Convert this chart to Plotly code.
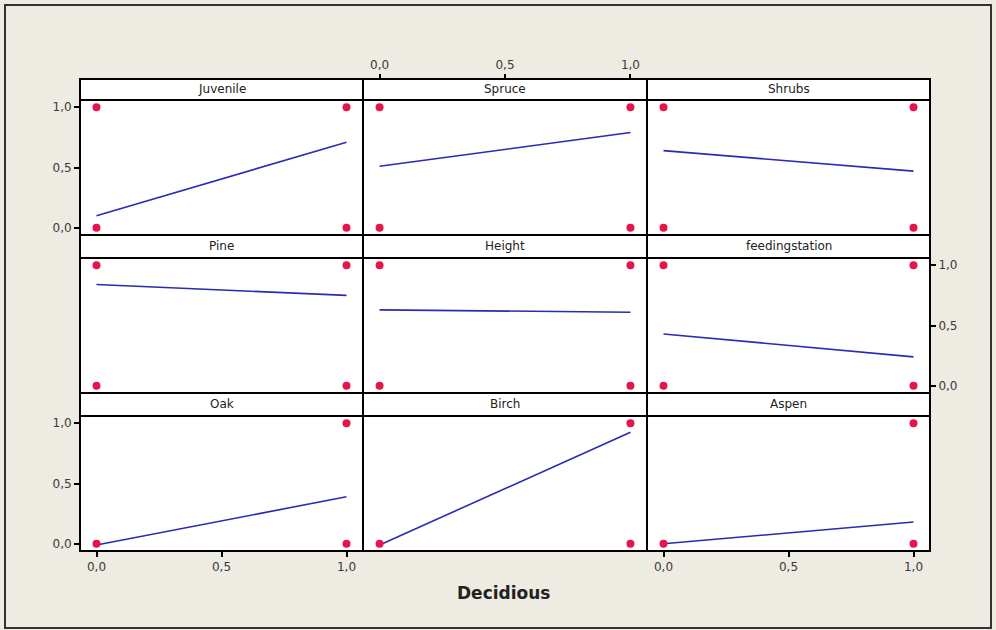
import plotly.graph_objects as go

# ---------------- data ----------------
panel_names = ["Juvenile", "Spruce", "Shrubs",
               "Pine", "Height", "feedingstation",
               "Oak", "Birch", "Aspen"]

# observed (Decidious, response) combinations shown as red points
points_x = [[0, 0, 1, 1], [0, 0, 1, 1], [0, 0, 1, 1],
            [0, 0, 1, 1], [0, 0, 1, 1], [0, 0, 1, 1],
            [0, 1, 1], [0, 1, 1], [0, 1, 1]]
points_y = [[0, 1, 0, 1], [0, 1, 0, 1], [0, 1, 0, 1],
            [0, 1, 0, 1], [0, 1, 0, 1], [0, 1, 0, 1],
            [0, 0, 1], [0, 0, 1], [0, 0, 1]]

# fitted line (value at Decidious = 0 and Decidious = 1)
fit_x = [0.0, 1.0]
fit_start = [0.10, 0.51, 0.64, 0.84, 0.63, 0.43, -0.01, -0.01, 0.00]
fit_end = [0.71, 0.79, 0.47, 0.75, 0.61, 0.24, 0.39, 0.925, 0.18]

tick_vals = [0, 0.5, 1]
tick_text = ["0,0", "0,5", "1,0"]
x_title = "Decidious"

# ---------------- layout geometry (pixels) ----------------
W, H = 996, 630
col_edges = [(80, 363), (363, 647), (647, 930)]
row_strip = [(79, 100), (235, 258), (393, 416)]
row_plot = [(100, 235), (258, 393), (416, 551)]


def fx(p):
    return p / W


def fy(p):
    return 1 - p / H


fig = go.Figure()
shapes = []
annotations = []
layout = {}

tick_font = dict(family="DejaVu Sans", size=12, color="#3a3a3a")

for i, name in enumerate(panel_names):
    r, c = divmod(i, 3)
    n = i + 1
    xa = "x" if n == 1 else f"x{n}"
    ya = "y" if n == 1 else f"y{n}"
    xl = "xaxis" if n == 1 else f"xaxis{n}"
    yl = "yaxis" if n == 1 else f"yaxis{n}"
    x0, x1 = col_edges[c]
    py0, py1 = row_plot[r]
    sy0, sy1 = row_strip[r]

    xaxis = dict(domain=[fx(x0), fx(x1)], range=[-0.066, 1.066],
                 showgrid=False, zeroline=False, showline=False,
                 tickvals=tick_vals, ticktext=tick_text, tickfont=tick_font,
                 anchor=ya, fixedrange=True)
    yaxis = dict(domain=[fy(py1), fy(py0)], range=[-0.06, 1.06],
                 showgrid=False, zeroline=False, showline=False,
                 tickvals=tick_vals, ticktext=tick_text, tickfont=tick_font,
                 anchor=xa, fixedrange=True)

    # x tick labels
    if r == 2 and c in (0, 2):
        xaxis.update(showticklabels=True, ticks="outside", ticklen=5,
                     tickwidth=1.5, tickcolor="black", side="bottom")
    elif r == 0 and c == 1:
        xaxis.update(showticklabels=True, ticks="outside", ticklen=5,
                     tickwidth=1.5, tickcolor="black", side="top",
                     anchor="free", position=fy(sy0))
    else:
        xaxis.update(showticklabels=False, ticks="")

    # y tick labels
    if c == 0 and r in (0, 2):
        yaxis.update(showticklabels=True, ticks="outside", ticklen=5,
                     tickwidth=1.5, tickcolor="black", side="left")
    elif c == 2 and r == 1:
        yaxis.update(showticklabels=True, ticks="outside", ticklen=5,
                     tickwidth=1.5, tickcolor="black", side="right")
    else:
        yaxis.update(showticklabels=False, ticks="")

    layout[xl] = xaxis
    layout[yl] = yaxis

    # fitted line
    fig.add_trace(go.Scatter(x=fit_x, y=[fit_start[i], fit_end[i]],
                             mode="lines", line=dict(color="#2a2ab4", width=1.6),
                             xaxis=xa, yaxis=ya, showlegend=False,
                             hoverinfo="skip"))
    # observed points
    fig.add_trace(go.Scatter(x=points_x[i], y=points_y[i], mode="markers",
                             marker=dict(color="#e5144b", size=8,
                                         symbol="circle"),
                             xaxis=xa, yaxis=ya, showlegend=False))

    # strip
    shapes.append(dict(type="rect", xref="paper", yref="paper",
                       x0=fx(x0), x1=fx(x1), y0=fy(sy1), y1=fy(sy0),
                       fillcolor="white", line=dict(color="black", width=2),
                       layer="below"))
    # plot frame
    shapes.append(dict(type="rect", xref="paper", yref="paper",
                       x0=fx(x0), x1=fx(x1), y0=fy(py1), y1=fy(py0),
                       fillcolor="rgba(0,0,0,0)",
                       line=dict(color="black", width=2), layer="above"))
    annotations.append(dict(text=name, xref="paper", yref="paper",
                            x=(fx(x0) + fx(x1)) / 2, y=(fy(sy0) + fy(sy1)) / 2,
                            xanchor="center", yanchor="middle", showarrow=False,
                            font=dict(family="DejaVu Sans", size=12,
                                      color="#222222")))

# outer frame
shapes.insert(0, dict(type="rect", xref="paper", yref="paper",
                      x0=fx(5), x1=fx(991), y0=fy(628), y1=fy(5),
                      fillcolor="rgba(0,0,0,0)",
                      line=dict(color="#333333", width=2), layer="below"))

annotations.append(dict(text="<b>" + x_title + "</b>", xref="paper",
                        yref="paper", x=fx(504), y=fy(593), xanchor="center",
                        yanchor="middle", showarrow=False,
                        font=dict(family="DejaVu Sans", size=17,
                                  color="#222222")))

fig.update_layout(width=W, height=H, margin=dict(l=0, r=0, t=0, b=0),
                  paper_bgcolor="#eeebe2", plot_bgcolor="white",
                  shapes=shapes, annotations=annotations, **layout)

fig.write_html("out.html", config={"displayModeBar": False},
               post_script="document.body.style.margin='0';"
                           "document.body.style.overflow='hidden';")
